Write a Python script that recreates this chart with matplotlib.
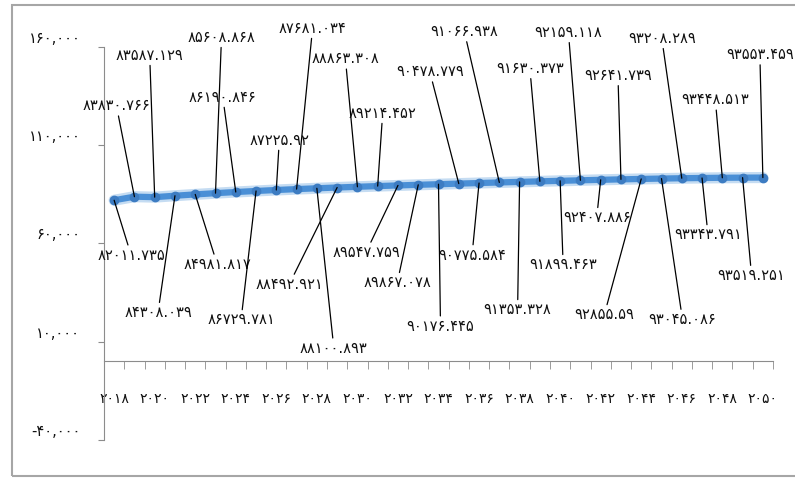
import matplotlib
matplotlib.use("Agg")
import matplotlib.pyplot as plt
from matplotlib.patches import Rectangle
from matplotlib.transforms import ScaledTranslation
import numpy as np

# data
years = list(range(2018, 2051))
values = [82011.735, 83830.766, 83587.129, 84308.039, 84981.817, 85608.868,
          86190.846, 86729.781, 87225.92, 87681.034, 88100.893, 88492.921,
          88863.308, 89214.452, 89547.759, 89867.078, 90176.445, 90478.779,
          90775.584, 91066.938, 91353.328, 91630.373, 91899.463, 92159.118,
          92407.886, 92641.739, 92855.59, 93045.086, 93208.289, 93343.791,
          93448.513, 93519.251, 93553.459]
y_ticks = [-40000, 10000, 60000, 110000, 160000]
x_label_years = list(range(2018, 2051, 2))

# where each data label sits, in pixels from its point
label_offsets = [(17, -55), (-18, 91), (-5, 142), (-17, -117), (22, -70),
                 (6, 156), (-13, 95), (-15, -129), (3, 50), (16, 161),
                 (17, -160), (-48, -97), (-12, 128), (5, 73), (-32, -67),
                 (-21, -98), (2, -142), (-29, 112), (-7, -72), (-35, 151),
                 (-2, -128), (-10, 113), (3, -84), (-12, 148), (-4, -38),
                 (-3, 104), (-37, -136), (21, -141), (-20, 140), (6, -57),
                 (-7, 78), (9, -98), (-3, 123)]

fa = str.maketrans("0123456789", "۰۱۲۳۴۵۶۷۸۹")


def persian(s):
    return s.translate(fa)


plt.rcParams['font.family'] = ['DejaVu Sans']

fig = plt.figure(figsize=(7.95, 4.79), dpi=100)
W, H = 795, 479
ax = fig.add_axes([104 / W, 1 - 440 / H, (773 - 104) / W, (440 - 47) / H])

# outer frame
fig.patches.append(Rectangle((12 / W, 1 - 476 / H), (800 - 12) / W, (476 - 5) / H,
                             transform=fig.transFigure, fill=False,
                             edgecolor='#a6a6a6', lw=1.5))

ax.plot(years, values, color='#c5dcf2', lw=8, solid_capstyle='round', zorder=2)
ax.plot(years, values, color='#4a8fd6', lw=4.5, marker='o', markersize=6,
        markerfacecolor='#3d7cc2', markeredgecolor='#3d7cc2', zorder=3)

for yr, v, (dx, dy) in zip(years, values, label_offsets):
    ax.annotate(persian(str(v)), (yr, v), xytext=(dx, dy),
                textcoords='offset pixels', ha='center', va='center',
                fontsize=10.5, color='#111111',
                arrowprops=dict(arrowstyle='-', color='black', lw=0.9,
                                shrinkA=0, shrinkB=0), zorder=4)

ax.set_xlim(2017.5, 2050.5)
ax.set_ylim(-40000, 160000)

for s in ['top', 'right']:
    ax.spines[s].set_visible(False)
ax.spines['bottom'].set_position(('data', 0))
ax.spines['bottom'].set_color('#8c8c8c')
ax.spines['left'].set_color('#8c8c8c')

ax.set_xticks(x_label_years)
ax.set_xticklabels([persian(str(y)) for y in x_label_years], fontsize=10,
                   color='#111111')
ax.set_xticks(np.arange(2017.5, 2051, 1), minor=True)
ax.tick_params(axis='x', which='major', length=0, pad=22)
ax.tick_params(axis='x', which='minor', length=6, color='#8c8c8c')

ax.set_yticks(y_ticks)
ax.set_yticklabels([("-" if t < 0 else "") + persian(f"{abs(t):,}") for t in y_ticks],
                   fontsize=10.5, color='#111111')
ax.tick_params(axis='y', length=4, color='#8c8c8c', pad=13)
shift = ScaledTranslation(0, 10 / 100, fig.dpi_scale_trans)
for lab in ax.get_yticklabels():
    lab.set_transform(lab.get_transform() + shift)

fig.savefig("out.png", dpi=100)
